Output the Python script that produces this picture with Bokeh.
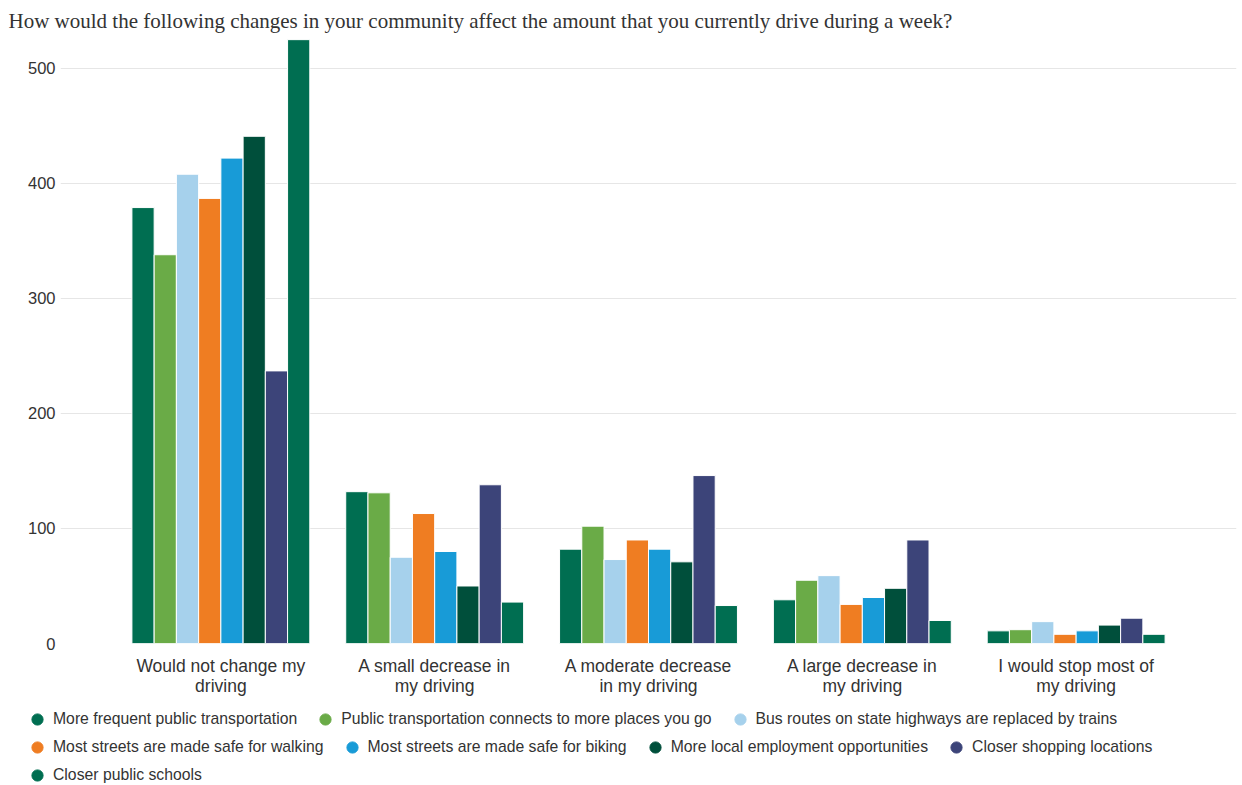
import numpy as np
from bokeh.plotting import figure
from bokeh.models import (FixedTicker, Legend, LegendItem, Title, ColumnDataSource)
from bokeh.layouts import column
from bokeh.embed import file_html
from bokeh.resources import INLINE

title_text = "How would the following changes in your community affect the amount that you currently drive during a week?"

categories = ["Would not change my\ndriving", "A small decrease in\nmy driving",
              "A moderate decrease\nin my driving", "A large decrease in\nmy driving",
              "I would stop most of\nmy driving"]

series_names = ["More frequent public transportation",
                "Public transportation connects to more places you go",
                "Bus routes on state highways are replaced by trains",
                "Most streets are made safe for walking",
                "Most streets are made safe for biking",
                "More local employment opportunities",
                "Closer shopping locations",
                "Closer public schools"]

more_frequent = [379, 132, 82, 38, 11]
connects_more = [338, 131, 102, 55, 12]
bus_to_trains = [408, 75, 73, 59, 19]
safe_walking = [387, 113, 90, 34, 8]
safe_biking = [422, 80, 82, 40, 11]
local_jobs = [441, 50, 71, 48, 16]
closer_shopping = [237, 138, 146, 90, 22]
closer_schools = [525, 36, 33, 20, 8]

series_values = [more_frequent, connects_more, bus_to_trains, safe_walking,
                 safe_biking, local_jobs, closer_shopping, closer_schools]

colors = ["#006E51", "#6AAB47", "#A6D1EC", "#EF7D22", "#189BD7", "#004F3B", "#3C4479", "#006E51"]

y_ticks = [0, 100, 200, 300, 400, 500]

TEXT = "#333333"

# Main chart
p = figure(width=1242, height=700, output_backend="svg", toolbar_location=None,
           x_range=(-0.75, 4.75), y_range=(0, 526),
           min_border_left=60, min_border_right=6, min_border_top=38, min_border_bottom=57)
p.outline_line_color = None
p.background_fill_color = "white"
p.border_fill_color = "white"

n = len(series_values)
step = 0.104
xs = np.arange(len(categories))
for i, (vals, col) in enumerate(zip(series_values, colors)):
    src = ColumnDataSource(dict(x=xs + (i - (n - 1) / 2) * step, top=vals))
    p.vbar(x="x", top="top", width=step, bottom=0, source=src,
           fill_color=col, line_color="white", line_width=1)

p.xaxis.ticker = FixedTicker(ticks=list(range(len(categories))))
p.xaxis.major_label_overrides = {i: c for i, c in enumerate(categories)}
p.xaxis.axis_line_color = None
p.xaxis.major_tick_line_color = None
p.xaxis.minor_tick_line_color = None
p.xaxis.major_tick_out = 0
p.xaxis.major_tick_in = 0
p.xaxis.major_label_text_font = "Liberation Sans"
p.xaxis.major_label_text_font_size = "17.5px"
p.xaxis.major_label_text_line_height = 1.0
p.xaxis.major_label_text_color = TEXT
p.xaxis.major_label_standoff = 12

p.yaxis.ticker = FixedTicker(ticks=y_ticks)
p.yaxis.axis_line_color = None
p.yaxis.major_tick_line_color = None
p.yaxis.minor_tick_line_color = None
p.yaxis.major_tick_out = 0
p.yaxis.major_tick_in = 0
p.yaxis.major_label_text_font = "Liberation Sans"
p.yaxis.major_label_text_font_size = "16.5px"
p.yaxis.major_label_text_color = TEXT
p.yaxis.major_label_standoff = 5

p.xgrid.grid_line_color = None
p.ygrid.grid_line_color = "#e6e6e6"
p.ygrid.grid_line_width = 1

t = Title(text=title_text, align="left", offset=-52, text_font="Liberation Serif",
          text_font_size="21px", text_font_style="normal", text_color=TEXT,
          standoff=11, vertical_align="bottom")
p.add_layout(t, "above")

# Legend strip
lg = figure(frame_width=1242, frame_height=85, output_backend="svg", toolbar_location=None,
            x_axis_location=None, y_axis_location=None,
            min_border=0, min_border_left=0, min_border_right=0,
            min_border_top=0, min_border_bottom=0,
            x_range=(0, 1), y_range=(0, 1))
lg.outline_line_color = None
lg.xgrid.visible = False
lg.ygrid.visible = False

items = []
for name, col in zip(series_names, colors):
    r = lg.scatter(x=[np.nan], y=[np.nan], marker="circle", fill_color=col, line_color=col, size=11)
    items.append(LegendItem(label=name, renderers=[r]))

rows = [items[0:3], items[3:7], items[7:8]]
bottoms = [52, 24, -4]
for row, b in zip(rows, bottoms):
    leg = Legend(items=row, orientation="horizontal", location=(23, b),
                 padding=0, margin=0, spacing=14, label_standoff=2,
                 glyph_width=28, glyph_height=28, label_height=28,
                 label_text_font="Liberation Sans", label_text_font_size="15.75px",
                 label_text_color=TEXT, border_line_color=None,
                 background_fill_alpha=0)
    lg.add_layout(leg, "center")

layout = column(p, lg, spacing=0)
open("out.html", "w").write(file_html(layout, INLINE))
